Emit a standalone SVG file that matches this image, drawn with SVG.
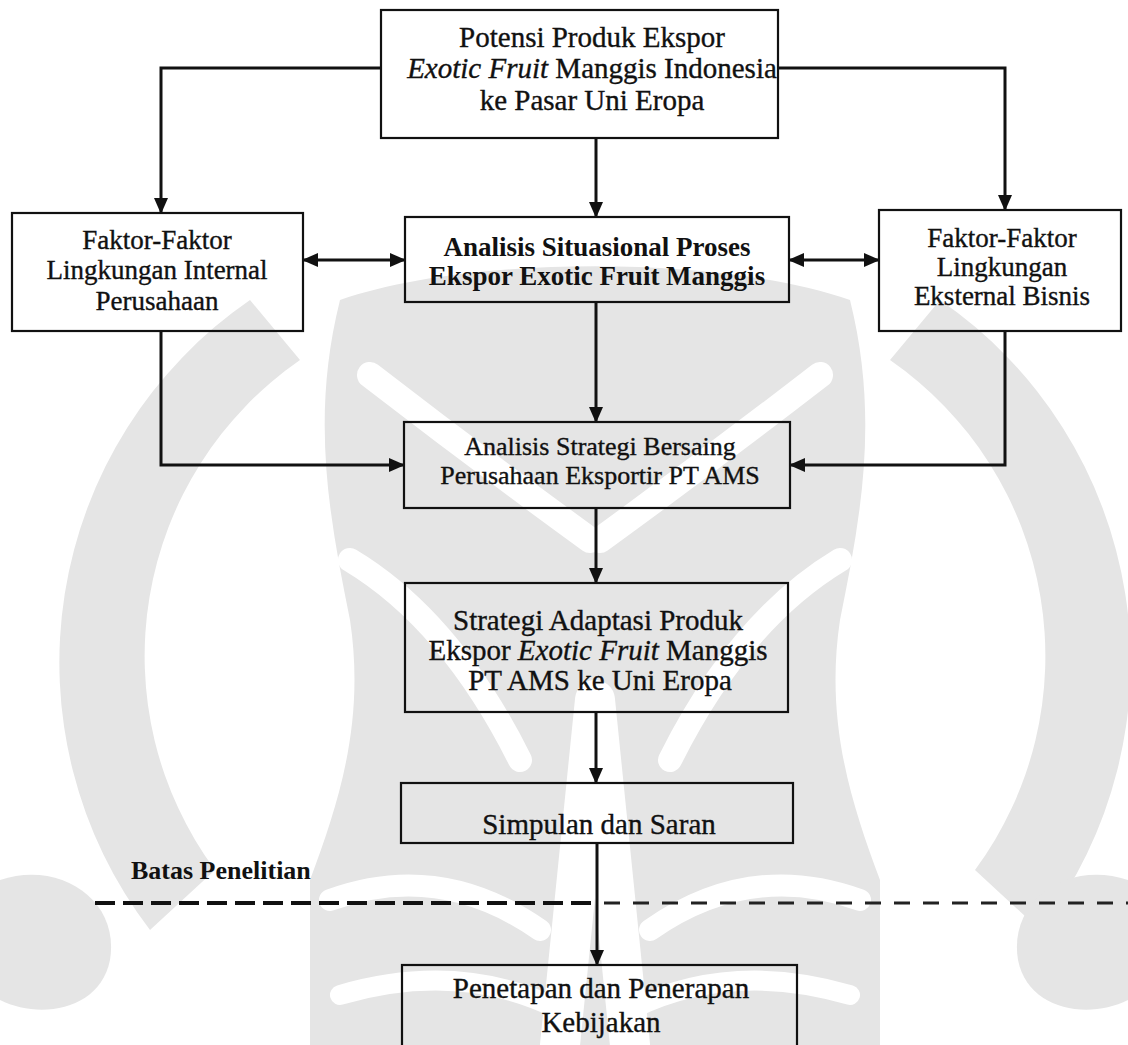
<svg xmlns="http://www.w3.org/2000/svg" width="1128" height="1045" viewBox="0 0 1128 1045">
  <defs>
    <style>
      .box { fill: none; stroke: #111; stroke-width: 2.2; }
      .t { font-family: "Liberation Serif", "Times New Roman", serif; font-size: 29px; fill: #111; stroke: #111; stroke-width: 0.35; text-anchor: middle; }
      .s27 { font-size: 27px; }
      .s26 { font-size: 26px; }
      .b { font-weight: bold; stroke-width: 0; }
      .start { text-anchor: start; }
      .conn { stroke: #111; stroke-width: 3; fill: none; }
      .wm { fill: #e5e5e5; }
      .cut { fill: none; stroke: #fff; stroke-linecap: round; }
    </style>
    <marker id="arrow" viewBox="0 0 16 14" refX="15" refY="7" markerWidth="16" markerHeight="14" markerUnits="userSpaceOnUse" orient="auto-start-reverse">
      <path d="M0,0 L16,7 L0,14 z" fill="#111"/>
    </marker>
  </defs>

  <rect width="1128" height="1045" fill="#fff"/>

  <!-- faint emblem behind the chart -->
  <g id="emblem">
    <!-- outer ring halves -->
    <path class="wm" d="M250,300 A440,440 0 0 0 150,930 L215,870 A360,360 0 0 1 300,360 Z"/>
    <path class="wm" d="M940,300 A440,440 0 0 1 1040,930 L975,870 A360,360 0 0 0 890,360 Z"/>
    <!-- lower curls -->
    <path class="wm" d="M0,880 C60,860 120,900 110,960 C100,1010 40,1020 0,1000 Z"/>
    <path class="wm" d="M1128,880 C1068,860 1008,900 1018,960 C1028,1010 1088,1020 1128,1000 Z"/>
    <!-- central figure -->
    <path class="wm" d="M340,300 C470,255 720,255 850,300 C880,420 860,520 840,620 C825,720 850,800 880,880 L880,1045 L310,1045 L310,880 C340,800 365,720 350,620 C330,520 310,420 340,300 Z"/>
    <path class="cut" stroke-width="26" d="M370,375 Q480,460 590,540 M820,375 Q710,460 600,540"/>
    <path class="cut" stroke-width="24" d="M350,560 Q450,620 520,760 M840,560 Q740,620 670,760"/>
    <path class="cut" stroke-width="40" d="M595,700 L560,1045 M595,700 L630,1045"/>
    <path class="cut" stroke-width="22" d="M330,900 Q440,860 540,930 M860,900 Q750,860 650,930"/>
    <path class="cut" stroke-width="20" d="M340,995 Q460,960 560,1010 M850,995 Q730,960 630,1010"/>
  </g>

  <!-- connectors -->
  <g id="connectors">
    <path class="conn" d="M596,138 V217" marker-end="url(#arrow)"/>
    <path class="conn" d="M381,68 H161 V213" marker-end="url(#arrow)"/>
    <path class="conn" d="M778,68 H1005 V210" marker-end="url(#arrow)"/>
    <path class="conn" d="M303,260 H405" marker-start="url(#arrow)" marker-end="url(#arrow)"/>
    <path class="conn" d="M789,260 H879" marker-start="url(#arrow)" marker-end="url(#arrow)"/>
    <path class="conn" d="M596,302 V422" marker-end="url(#arrow)"/>
    <path class="conn" d="M161,331 V465 H404" marker-end="url(#arrow)"/>
    <path class="conn" d="M1005,331 V465 H790" marker-end="url(#arrow)"/>
    <path class="conn" d="M596,508 V583" marker-end="url(#arrow)"/>
    <path class="conn" d="M596,712 V783" marker-end="url(#arrow)"/>
    <path class="conn" d="M597,843 V965" marker-end="url(#arrow)"/>
  </g>

  <!-- research boundary -->
  <g id="boundary">
    <path d="M95,903 H596" stroke="#111" stroke-width="4" stroke-dasharray="20 8" fill="none"/>
    <path d="M604,903 H1128" stroke="#222" stroke-width="3" stroke-dasharray="16 13" fill="none"/>
    <text class="t s26 b start" x="131" y="879">Batas Penelitian</text>
  </g>

  <g id="potensi">
    <rect class="box" x="381" y="10" width="397" height="128"/>
    <text class="t" x="592" y="47">Potensi Produk Ekspor</text>
    <text class="t" x="592" y="78"><tspan font-style="italic">Exotic Fruit</tspan> Manggis Indonesia</text>
    <text class="t" x="592" y="110">ke Pasar Uni Eropa</text>
  </g>

  <g id="internal">
    <rect class="box" x="12" y="213" width="291" height="118"/>
    <text class="t s27" x="157" y="249">Faktor-Faktor</text>
    <text class="t s27" x="157" y="279">Lingkungan Internal</text>
    <text class="t s27" x="157" y="310">Perusahaan</text>
  </g>

  <g id="situasional">
    <rect class="box" x="405" y="217" width="384" height="85"/>
    <text class="t s27 b" x="597" y="256">Analisis Situasional Proses</text>
    <text class="t s27 b" x="597" y="285">Ekspor Exotic Fruit Manggis</text>
  </g>

  <g id="eksternal">
    <rect class="box" x="879" y="210" width="242" height="121"/>
    <text class="t s27" x="1002" y="247">Faktor-Faktor</text>
    <text class="t s27" x="1002" y="276">Lingkungan</text>
    <text class="t s27" x="1002" y="305">Eksternal Bisnis</text>
  </g>

  <g id="bersaing">
    <rect class="box" x="404" y="422" width="386" height="86"/>
    <text class="t s26" x="600" y="455">Analisis Strategi Bersaing</text>
    <text class="t s26" x="600" y="484">Perusahaan Eksportir PT AMS</text>
  </g>

  <g id="adaptasi">
    <rect class="box" x="405" y="583" width="383" height="129"/>
    <text class="t" x="598" y="630">Strategi Adaptasi Produk</text>
    <text class="t" x="598" y="660">Ekspor <tspan font-style="italic">Exotic Fruit</tspan> Manggis</text>
    <text class="t" x="600" y="690">PT AMS ke Uni Eropa</text>
  </g>

  <g id="simpulan">
    <rect class="box" x="401" y="783" width="392" height="60"/>
    <text class="t" x="599" y="834">Simpulan dan Saran</text>
  </g>

  <g id="penetapan">
    <rect class="box" x="402" y="965" width="395" height="100"/>
    <text class="t" x="601" y="998">Penetapan dan Penerapan</text>
    <text class="t" x="601" y="1032">Kebijakan</text>
  </g>
</svg>
